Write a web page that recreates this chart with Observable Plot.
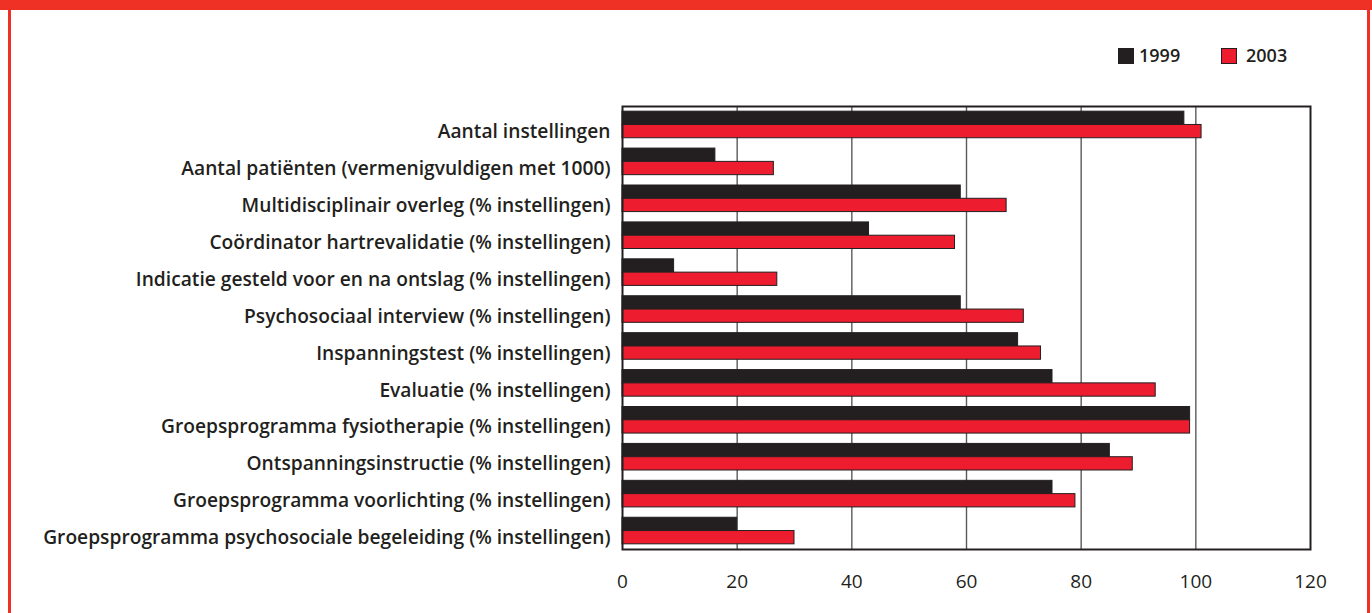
<!DOCTYPE html>
<html><head><meta charset="utf-8">
<script src="https://cdn.jsdelivr.net/npm/d3@7"></script>
<script src="https://cdn.jsdelivr.net/npm/@observablehq/plot@0.6"></script>
<style>
body{margin:0;background:#fff;}
#wrap{position:relative;width:1372px;height:613px;overflow:hidden;font-family:"Open Sans",sans-serif;color:#231f20;}
.red{position:absolute;background:#ee3124;}
.sw{position:absolute;width:14px;height:14px;border:1px solid #231f20;}
.lt{position:absolute;font-size:18px;font-weight:600;line-height:20px;}
#chart{position:absolute;left:0;top:0;}
</style></head>
<body>
<div id="wrap">
  <div id="chart"></div>
  <div class="red" style="left:0;top:0;width:1372px;height:10px"></div>
  <div class="red" style="left:8px;top:0;width:3px;height:613px"></div>
  <div class="red" style="left:1367px;top:0;width:3px;height:613px"></div>
  <div id="legend"></div>
</div>
<script>
const categories = [
  "Aantal instellingen",
  "Aantal patiënten (vermenigvuldigen met 1000)",
  "Multidisciplinair overleg (% instellingen)",
  "Coördinator hartrevalidatie (% instellingen)",
  "Indicatie gesteld voor en na ontslag (% instellingen)",
  "Psychosociaal interview (% instellingen)",
  "Inspanningstest (% instellingen)",
  "Evaluatie (% instellingen)",
  "Groepsprogramma fysiotherapie (% instellingen)",
  "Ontspanningsinstructie (% instellingen)",
  "Groepsprogramma voorlichting (% instellingen)",
  "Groepsprogramma psychosociale begeleiding (% instellingen)"
];
const years = ["1999", "2003"];
const values1999 = [98, 16.2, 59, 43, 9, 59, 69, 75, 99, 85, 75, 20];
const values2003 = [101, 26.4, 67, 58, 27, 70, 73, 93, 99, 89, 79, 30];
const xTicks = [0, 20, 40, 60, 80, 100, 120];
const colors = {"1999": "#231f20", "2003": "#ed1c2e"};

const rows1999 = categories.map((c, i) => ({cat: c, year: "1999", value: values1999[i]}));
const rows2003 = categories.map((c, i) => ({cat: c, year: "2003", value: values2003[i]}));

const W = 1372, H = 613, mt = 106, mb = 64, ml = 622, mr = 62;
const pi = 0.28, po = 0.14;
const step = (H - mt - mb) / (categories.length - pi + 2 * po);
const bw = step * (1 - pi);

const chart = Plot.plot({
  width: W, height: H,
  marginTop: mt, marginBottom: mb, marginLeft: ml, marginRight: mr,
  style: {fontFamily: "'Open Sans', sans-serif", color: "#231f20", background: "transparent"},
  x: {domain: [0, 120], label: null},
  y: {domain: categories, paddingInner: pi, paddingOuter: po, round: false, label: null},
  marks: [
    Plot.ruleX(xTicks.slice(1, -1), {stroke: "#5a5a5a", strokeWidth: 1.4}),
    Plot.barX(rows1999, {x: "value", y: "cat", fill: colors["1999"], stroke: "#231f20", strokeWidth: 1, insetBottom: bw / 2}),
    Plot.barX(rows2003, {x: "value", y: "cat", fill: colors["2003"], stroke: "#231f20", strokeWidth: 1, insetTop: bw / 2}),
    Plot.frame({stroke: "#231f20", strokeWidth: 2}),
    Plot.axisX({ticks: xTicks, tickSize: 0, tickPadding: 25, fontSize: 19, fill: "#231f20", label: null}),
    Plot.axisY({tickSize: 0, tickPadding: 12, dy: 7, fontSize: 19.2, fontWeight: 600, fill: "#231f20", label: null})
  ]
});
document.getElementById("chart").appendChild(chart);

const legend = document.getElementById("legend");
const pos = [{sx: 1118, tx: 1139}, {sx: 1221, tx: 1246}];
years.forEach((y, i) => {
  const s = document.createElement("div");
  s.className = "sw";
  s.style.left = pos[i].sx + "px"; s.style.top = "48px"; s.style.background = colors[y];
  legend.appendChild(s);
  const t = document.createElement("div");
  t.className = "lt";
  t.style.left = pos[i].tx + "px"; t.style.top = "45px";
  t.textContent = y;
  legend.appendChild(t);
});
</script>
</body></html>
